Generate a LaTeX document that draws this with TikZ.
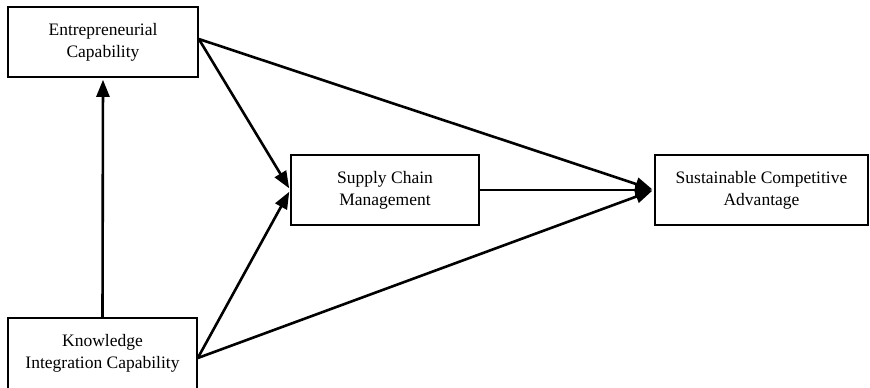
\documentclass[tikz,border=0pt]{standalone}
\usepackage{fontspec}
\setmainfont{Liberation Serif}
\usetikzlibrary{arrows.meta}
\begin{document}
\begin{tikzpicture}[x=1pt,y=-1pt,
  box/.style={draw, line width=1.6pt, inner sep=0pt, align=center,
    font=\fontsize{17.5}{22}\selectfont},
  link/.style={line width=2.6pt, -{Triangle[length=17pt,width=13pt]}, shorten >=2pt}
]
\useasboundingbox (0,0) rectangle (870,388);
\clip (0,0) rectangle (870,388);
\fill[white] (0,0) rectangle (870,388);
\node[box, minimum width=190pt, minimum height=70pt] (ec) at (103,42) {Entrepreneurial\\Capability};
\node[box, minimum width=188pt, minimum height=70pt] (scm) at (385,190) {Supply Chain\\Management};
\node[box, minimum width=213pt, minimum height=70pt] (sca) at (761.5,190) {Sustainable Competitive\\Advantage};
\node[box, minimum width=189pt, minimum height=74pt, text depth=8pt] (kic) at (102.5,355) {Knowledge\\Integration Capability};
\coordinate (ecout) at ([yshift=3]ec.east);
\coordinate (kicout) at ([yshift=-3]kic.east);
\coordinate (ecin) at (ec.south);
\draw[link] (kic.north) -- (ecin);
\draw[link] (ecout) -- (scm.west);
\draw[link] (kicout) -- (scm.west);
\draw[link] (ecout) -- (sca.west);
\draw[link] (kicout) -- (sca.west);
\draw[link] (scm.east) -- (sca.west);
\end{tikzpicture}
\end{document}
